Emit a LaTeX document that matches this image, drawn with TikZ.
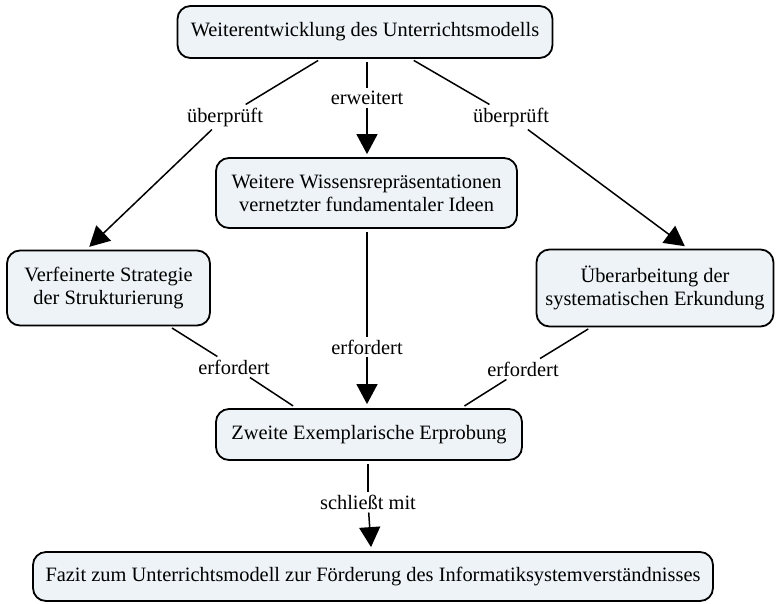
\documentclass[tikz,border=0pt]{standalone}
\usepackage{fontspec}
\setmainfont{Liberation Serif}
\usetikzlibrary{arrows.meta}
\definecolor{boxfill}{RGB}{237,243,246}
\begin{document}
\begin{tikzpicture}[x=1pt,y=-1pt,
  concept/.style={draw=black, line width=1.8pt, fill=boxfill, rounded corners=13pt,
    align=center, inner sep=0pt, font=\fontsize{20.4}{23}\selectfont},
  linking/.style={inner sep=3pt, font=\fontsize{20.4}{23}\selectfont},
  conn/.style={line width=1.5pt},
  arr/.style={-{Triangle[length=20pt,width=21pt]}}]
\useasboundingbox (0,0) rectangle (778,603);

% concepts
\node[concept, minimum width=375pt, minimum height=52pt] (top) at (365,32)
  {Weiterentwicklung des Unterrichtsmodells};
\node[concept, minimum width=301pt, minimum height=70pt] (mid) at (366.5,193)
  {Weitere Wissensrepräsentationen\\vernetzter fundamentaler Ideen};
\node[concept, minimum width=203pt, minimum height=75pt] (left) at (108.5,288)
  {Verfeinerte Strategie\\der Strukturierung};
\node[concept, minimum width=237pt, minimum height=77pt] (right) at (655,288)
  {Überarbeitung der\\systematischen Erkundung};
\node[concept, minimum width=306pt, minimum height=51pt] (test) at (369,434.5)
  {Zweite Exemplarische Erprobung};
\node[concept, minimum width=680pt, minimum height=49pt] (fazit) at (373,576.5)
  {Fazit zum Unterrichtsmodell zur Förderung des Informatiksystemverständnisses};

% linking phrases
\node[linking] (lA) at (225,117) {überprüft};
\node[linking] (lB) at (367,98) {erweitert};
\node[linking] (lC) at (511,117) {überprüft};
\node[linking] (lD) at (234,367) {erfordert};
\node[linking] (lE) at (367,347) {erfordert};
\node[linking] (lF) at (523,369) {erfordert};
\node[linking] (lG) at (368,502) {schließt mit};

% connectors
\draw[conn, shorten <=3pt] (top) -- (lA);
\draw[conn, arr, shorten >=4pt] (lA) -- (left.120);
\draw[conn, shorten <=3pt] (top.south -| lB) -- (lB);
\draw[conn, arr, shorten >=3pt] (lB) -- (mid.north -| lB);
\draw[conn, shorten <=3pt] (top) -- (lC);
\draw[conn, arr, shorten >=4pt] (lC) -- (right.50);

\draw[conn, shorten <=3pt] (left) -- (lD);
\draw[conn, shorten >=4pt] (lD) -- (test.160);
\draw[conn, shorten <=3pt] (mid.south -| lE) -- (lE);
\draw[conn, arr, shorten >=4pt] (lE) -- (test.north -| lE);
\draw[conn, shorten <=3pt] (right) -- (lF);
\draw[conn, shorten >=4pt] (lF) -- (test.16);

\draw[conn, shorten <=3pt] (test.south -| lG) -- (lG);
\draw[conn, arr, shorten >=4pt] (lG) -- (fazit);
\end{tikzpicture}
\end{document}
